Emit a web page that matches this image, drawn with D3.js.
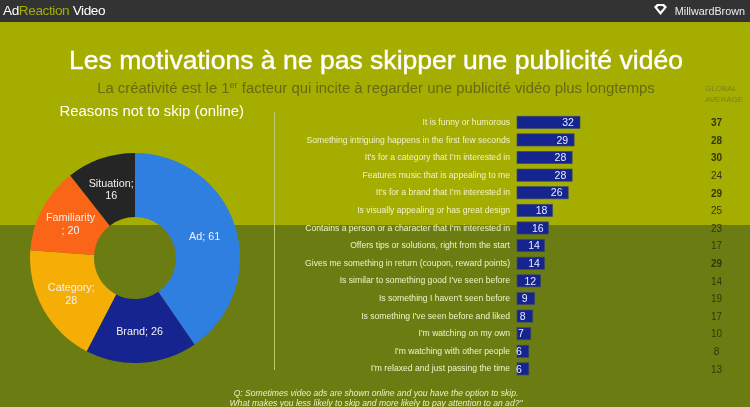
<!DOCTYPE html>
<html><head><meta charset="utf-8">
<script src="https://cdn.jsdelivr.net/npm/d3@7"></script>
<style>html,body{margin:0;padding:0;background:#6b7d12}svg{display:block;filter:blur(.5px)}text{font-family:"Liberation Sans",Arial,sans-serif}</style>
</head><body><svg id="c" width="750" height="407"></svg>
<script>
const reasons=["It is funny or humorous","Something intriguing happens in the first few seconds","It's for a category that I'm interested in","Features music that is appealing to me","It's for a brand that I'm interested in","Is visually appealing or has great design","Contains a person or a character that I'm interested in","Offers tips or solutions, right from the start","Gives me something in return (coupon, reward points)","Is similar to something good I've seen before","Is something I haven't seen before","Is something I've seen before and liked","I'm watching on my own","I'm watching with other people","I'm relaxed and just passing the time"];
const reasonValues=[32,29,28,28,26,18,16,14,14,12,9,8,7,6,6];
const globalAverage=[37,28,30,24,29,25,23,17,29,14,19,17,10,8,13];
const boldRows=[0,1,2,4,8];
const donutLabels=[["Ad; 61"],["Brand; 26"],["Category;","28"],["Familiarity",";  20"],["Situation;","16"]];
const donutValues=[61,26,28,20,16];
const donutColors=["#2e7fe0","#16248f","#f5ae05","#fb6518","#252525"];
const svg=d3.select("#c");
svg.append("rect").attr("width",750).attr("height",407).attr("fill","#6b7d12");
svg.append("rect").attr("width",750).attr("height",225).attr("fill","#a5ad00");
svg.append("rect").attr("width",750).attr("height",22).attr("fill","#333333");
const txt=(x,y,s,size,fill,anchor,extra)=>{const t=svg.append("text").attr("x",x).attr("y",y).attr("font-size",size).attr("fill",fill).attr("text-anchor",anchor||"start").text(s);if(extra)extra(t);return t;};
const hdr=svg.append("text").attr("x",3).attr("y",15).attr("font-size",13.6).attr("letter-spacing",-.4).attr("fill","#fff");
hdr.append("tspan").text("Ad");hdr.append("tspan").attr("fill","#a5ad00").text("Reaction");hdr.append("tspan").text(" Video");
txt(745,14.5,"MillwardBrown",10.8,"#eee","end");
svg.append("path").attr("d","M654 7l3-3h7l3 3-6.5 8z M657 7.5l3.5 4 3.5-4-1.5-1.500h-4z").attr("fill","#fff").attr("fill-rule","evenodd");
txt(376,69,"Les motivations à ne pas skipper une publicité vidéo",26.55,"#fff","middle",t=>t.attr("stroke","#fff").attr("stroke-width",.4));
const sub=svg.append("text").attr("x",376).attr("y",93).attr("text-anchor","middle").attr("font-size",14.9).attr("fill","#646b12");
sub.append("tspan").text("La créativité est le 1");sub.append("tspan").attr("font-size",9).attr("dy",-5).text("er");sub.append("tspan").attr("dy",5).text(" facteur qui incite à regarder une publicité vidéo plus longtemps");
txt(59.500,116,"Reasons not to skip (online)",14.9,"#fff");
txt(705,91,"GLOBAL",8,"#7d8412");txt(705,102,"AVERAGE",8,"#7d8412");
// donut
const g=svg.append("g").attr("transform","translate(135,258)");
const pie=d3.pie().sort(null)(donutValues);
const arc=d3.arc().innerRadius(41).outerRadius(105);
g.selectAll("path").data(pie).join("path").attr("d",arc).attr("fill",(d,i)=>donutColors[i]);
const lab=g.selectAll("text").data(pie).join("text").attr("text-anchor","middle").attr("font-size",10.8).attr("fill","#f2f2f2")
 .attr("transform",d=>{const c=arc.centroid(d);return `translate(${c[0]},${c[1]})`;});
lab.each(function(d,i){const L=donutLabels[i];d3.select(this).selectAll("tspan").data(L).join("tspan").attr("x",0).attr("y",(l,k)=>4+(k-(L.length-1)/2)*12.5).text(l=>l);});
// rule
svg.append("line").attr("x1",274.5).attr("x2",274.5).attr("y1",112).attr("y2",370).attr("stroke","#c4cb6a").attr("stroke-width",1);
// bars
const y=d3.scaleBand().domain(reasons).range([113.5,377.7]).paddingInner(.31).paddingOuter(.155);
const x=d3.scaleLinear().domain([0,32]).range([517,580]);
const labelX=d3.scaleLinear().domain([6,32]).range([519,568]);
const rows=svg.selectAll("g.r").data(reasons).join("g").attr("class","r");
rows.append("rect").attr("x",x(0)).attr("y",d=>y(d)).attr("height",y.bandwidth()).attr("width",(d,i)=>x(reasonValues[i])-x(0)).attr("fill","#16248f").attr("stroke","#3b4a66").attr("stroke-width",.7);
rows.append("text").attr("x",510).attr("y",d=>y(d)+y.bandwidth()/2+2.6).attr("text-anchor","end").attr("font-size",8.6).attr("fill","#f2f2c8").text(d=>d);
rows.append("text").attr("x",(d,i)=>labelX(reasonValues[i])).attr("y",d=>y(d)+y.bandwidth()/2+3.7).attr("text-anchor","middle").attr("font-size",10.5).attr("fill","#e8ecff").text((d,i)=>reasonValues[i]);
rows.append("text").attr("x",716.500).attr("y",d=>y(d)+y.bandwidth()/2+3.8).attr("text-anchor","middle").attr("font-size",10).attr("fill","#30380a").attr("font-weight",(d,i)=>boldRows.includes(i)?"700":"400").text((d,i)=>globalAverage[i]);
const q=(yy,s)=>txt(376,yy,s,8.6,"#eef0c0","middle",t=>t.attr("font-style","italic"));
q(396,"Q:  Sometimes video ads are shown online and you have the option to skip.");
q(406,"What makes you less likely to skip and more likely to pay attention to an ad?\"");
</script></body></html>
